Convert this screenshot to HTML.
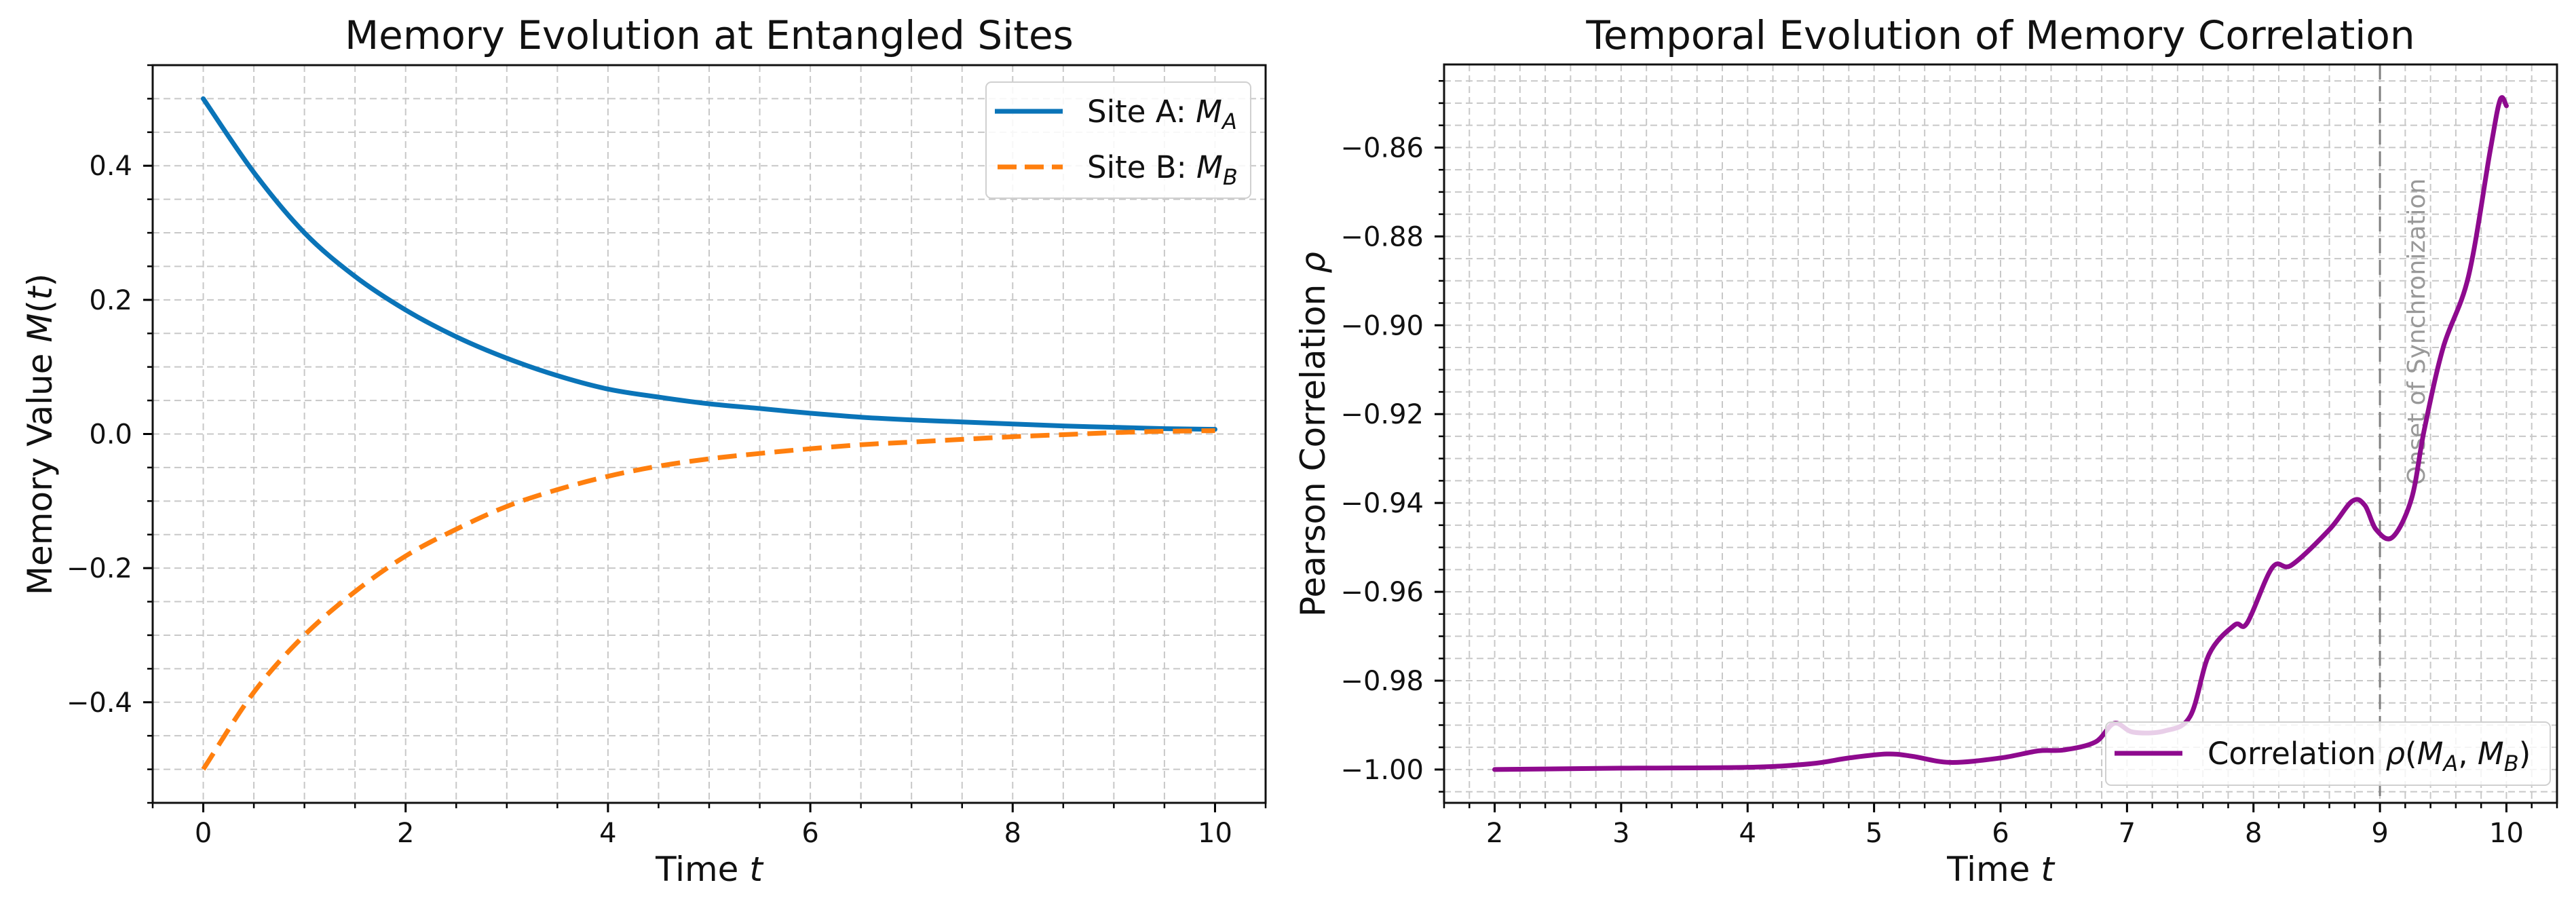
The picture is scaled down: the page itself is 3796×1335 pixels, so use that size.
<!DOCTYPE html>
<html><head><meta charset="utf-8">
<style>
html,body{margin:0;padding:0;background:#fff;}
svg{display:block;font-family:"DejaVu Sans","Liberation Sans",sans-serif;}
</style></head>
<body>
<svg id="fig" width="3796" height="1335" viewBox="0 0 3796 1335" xmlns="http://www.w3.org/2000/svg">
<rect width="3796" height="1335" fill="#fff"/>
</svg>
<script>
// ---- Left chart data ----
const timeA = [0,0.5,1,1.5,2,2.5,3,3.5,4,4.5,5,5.5,6,6.5,7,7.5,8,8.5,9,9.5,10];
const siteA = [0.5,0.39,0.30,0.235,0.185,0.145,0.113,0.087,0.067,0.055,0.045,0.038,0.031,0.025,0.021,0.018,0.015,0.012,0.010,0.008,0.007];
const siteB = [-0.5,-0.385,-0.30,-0.235,-0.182,-0.142,-0.108,-0.083,-0.063,-0.048,-0.037,-0.029,-0.022,-0.016,-0.012,-0.008,-0.004,-0.001,0.002,0.004,0.005];
const leftXTicks = [0,2,4,6,8,10];
const leftXTickLabels = ["0","2","4","6","8","10"];
const leftYTicks = [-0.4,-0.2,0,0.2,0.4];
const leftYTickLabels = ["\u22120.4","\u22120.2","0.0","0.2","0.4"];
// ---- Right chart data ----
const timeR = [2,3,4,4.5,4.8,5.1,5.3,5.6,6.0,6.3,6.5,6.75,6.9,7.05,7.3,7.5,7.65,7.85,7.95,8.15,8.3,8.6,8.78,8.88,8.97,9.1,9.25,9.35,9.5,9.7,9.87,9.95,10.0];
const corr = [-1.0,-0.9997,-0.9995,-0.9987,-0.9974,-0.9965,-0.997,-0.9984,-0.9974,-0.9958,-0.9956,-0.9938,-0.9896,-0.9916,-0.9913,-0.988,-0.974,-0.9675,-0.967,-0.9545,-0.954,-0.946,-0.9396,-0.9405,-0.946,-0.9477,-0.939,-0.9236,-0.905,-0.889,-0.861,-0.8493,-0.8506];
const rightXTicks = [2,3,4,5,6,7,8,9,10];
const rightXTickLabels = ["2","3","4","5","6","7","8","9","10"];
const rightYTicks = [-1.00,-0.98,-0.96,-0.94,-0.92,-0.90,-0.88,-0.86];
const rightYTickLabels = ["\u22121.00","\u22120.98","\u22120.96","\u22120.94","\u22120.92","\u22120.90","\u22120.88","\u22120.86"];
const onsetX = [9];

const NS = "http://www.w3.org/2000/svg";
const svg = document.getElementById('fig');
function el(tag, attrs, parent){
  const e = document.createElementNS(NS, tag);
  for (const k in attrs) e.setAttribute(k, attrs[k]);
  (parent||svg).appendChild(e);
  return e;
}
function smoothPath(pts){
  let d = "M"+pts[0][0].toFixed(1)+","+pts[0][1].toFixed(1);
  for (let i=0;i<pts.length-1;i++){
    const p0=pts[Math.max(i-1,0)], p1=pts[i], p2=pts[i+1], p3=pts[Math.min(i+2,pts.length-1)];
    const c1x=p1[0]+(p2[0]-p0[0])/6, c1y=p1[1]+(p2[1]-p0[1])/6;
    const c2x=p2[0]-(p3[0]-p1[0])/6, c2y=p2[1]-(p3[1]-p1[1])/6;
    d += " C"+c1x.toFixed(1)+","+c1y.toFixed(1)+" "+c2x.toFixed(1)+","+c2y.toFixed(1)+" "+p2[0].toFixed(1)+","+p2[1].toFixed(1);
  }
  return d;
}
function makeAxes(cfg){
  const g = el('g',{});
  
  
  const sx = v => cfg.L + (v-cfg.x0)/(cfg.x1-cfg.x0)*(cfg.R-cfg.L);
  const sy = v => cfg.B - (v-cfg.y0)/(cfg.y1-cfg.y0)*(cfg.B-cfg.T);
  const grid = el('g',{stroke:'#c8c8c8','stroke-width':2,'stroke-dasharray':'10,6',fill:'none'},g);
  
  
  const nx = Math.round((cfg.x1-cfg.x0)/cfg.xm);
  const xs=[], ys=[];
  for (let i=0;i<=nx;i++){ const v=cfg.xmStart+i*cfg.xm; if(v>cfg.x0-1e-9 && v<cfg.x1+1e-9) xs.push(v); }
  const ny = Math.round((cfg.y1-cfg.y0)/cfg.ym)+2;
  for (let i=0;i<=ny;i++){ const v=cfg.ymStart+i*cfg.ym; if(v>cfg.y0-1e-9 && v<cfg.y1+1e-9) ys.push(v); }
  xs.forEach(v=>{ const x=sx(v); if(x>cfg.L+2&&x<cfg.R-2){ const l=el('line',{x1:x,x2:x,y1:cfg.T,y2:cfg.B},grid);
     }});
  ys.forEach(v=>{ const y=sy(v); if(y>cfg.T+2&&y<cfg.B-2){ const l=el('line',{x1:cfg.L,x2:cfg.R,y1:y,y2:y},grid);
     }});
  const tk = el('g',{stroke:'#000','stroke-width':2.5},g);
  
  
  xs.forEach(v=>{ const x=sx(v); el('line',{x1:x,x2:x,y1:cfg.B,y2:cfg.B+8},tk); });
  ys.forEach(v=>{ const y=sy(v); el('line',{x1:cfg.L,x2:cfg.L-8,y1:y,y2:y},tk); });
  cfg.xt.forEach((v,i)=>{ const x=sx(v); el('line',{x1:x,x2:x,y1:cfg.B,y2:cfg.B+14,'stroke-width':3},tk);
    const t=el('text',{x:x,y:1241,'font-size':40,'text-anchor':'middle',fill:'#111'},g); t.textContent=cfg.xtl[i];
      });
  cfg.yt.forEach((v,i)=>{ const y=sy(v); el('line',{x1:cfg.L,x2:cfg.L-14,y1:y,y2:y,'stroke-width':3},tk);
    const t=el('text',{x:cfg.L-30,y:y+14,'font-size':40,'text-anchor':'end',fill:'#111'},g); t.textContent=cfg.ytl[i];
      });
  return {g,sx,sy};
}

// ---------- LEFT ----------
const A = makeAxes({name:'memory-evolution-chart',L:225,R:1865,T:96,B:1183,x0:-0.5,x1:10.5,y0:-0.55,y1:0.55,
  xm:0.5,xmStart:-0.5,ym:0.05,ymStart:-0.55,xt:leftXTicks,xtl:leftXTickLabels,yt:leftYTicks,ytl:leftYTickLabels});
const pA = el('path',{d:smoothPath(timeA.map((t,i)=>[A.sx(t),A.sy(siteA[i])])),fill:'none',stroke:'#0a74b8','stroke-width':7,'stroke-linecap':'round'},A.g);
 
const pB = el('path',{d:smoothPath(timeA.map((t,i)=>[A.sx(t),A.sy(siteB[i])])),fill:'none',stroke:'#ff7f0e','stroke-width':7,'stroke-dasharray':'28,14'},A.g);
 
const spA = el('rect',{x:225,y:96,width:1640,height:1087,fill:'none',stroke:'#111','stroke-width':3},A.g);
 
const lgA = el('g',{},A.g);
 
el('rect',{x:1453,y:121,width:390,height:171,rx:8,fill:'#fff','fill-opacity':0.85,stroke:'#d0d0d0','stroke-width':2},lgA);
el('line',{x1:1466,x2:1566,y1:164,y2:164,stroke:'#0a74b8','stroke-width':7},lgA);
el('line',{x1:1470,x2:1566,y1:246,y2:246,stroke:'#ff7f0e','stroke-width':7,'stroke-dasharray':'28,12'},lgA);
let t1 = el('text',{x:1602,y:180,'font-size':45,fill:'#111'},lgA);
 
t1.innerHTML='Site A: <tspan font-style="italic">M</tspan><tspan font-style="italic" font-size="32" dy="10">A</tspan>';
let t2 = el('text',{x:1602,y:262,'font-size':45,fill:'#111'},lgA);
 
t2.innerHTML='Site B: <tspan font-style="italic">M</tspan><tspan font-style="italic" font-size="32" dy="10">B</tspan>';
let ttl = el('text',{x:1045,y:72,'font-size':58,'text-anchor':'middle',fill:'#111'});
 
ttl.textContent='Memory Evolution at Entangled Sites';
let xl = el('text',{x:1045,y:1298,'font-size':50,'text-anchor':'middle',fill:'#111'});
 
xl.innerHTML='Time <tspan font-style="italic">t</tspan>';
let yl = el('text',{x:0,y:0,'font-size':50,'text-anchor':'middle',fill:'#111',transform:'translate(76,640) rotate(-90)'});
 
yl.innerHTML='Memory Value <tspan font-style="italic">M</tspan>(<tspan font-style="italic">t</tspan>)';

// ---------- RIGHT ----------
const Bx = makeAxes({name:'correlation-chart',L:2128,R:3768,T:95,B:1183,x0:1.6,x1:10.4,y0:-1.0075,y1:-0.8413,
  xm:0.2,xmStart:1.6,ym:0.005,ymStart:-1.01,xt:rightXTicks,xtl:rightXTickLabels,yt:rightYTicks,ytl:rightYTickLabels});
onsetX.forEach(v=>{
  const vl = el('line',{x1:Bx.sx(v),x2:Bx.sx(v),y1:95,y2:1183,stroke:'#808080','stroke-width':3,'stroke-dasharray':'22,10'},Bx.g);
   
  const ot = el('text',{x:0,y:0,'font-size':36,fill:'#999','text-anchor':'start',transform:'translate('+(Bx.sx(v)+66)+','+Bx.sy(-0.936)+') rotate(-90)'},Bx.g);
   
  ot.textContent='Onset of Synchronization';
});
const pC = el('path',{d:smoothPath(timeR.map((t,i)=>[Bx.sx(t),Bx.sy(corr[i])])),fill:'none',stroke:'#8e0a8e','stroke-width':7,'stroke-linecap':'round','stroke-linejoin':'round'},Bx.g);
 
const spB = el('rect',{x:2128,y:95,width:1640,height:1088,fill:'none',stroke:'#111','stroke-width':3},Bx.g);
 
const lgB = el('g',{},Bx.g);
 
el('rect',{x:3103,y:1064,width:655,height:93,rx:8,fill:'#fff','fill-opacity':0.8,stroke:'#d0d0d0','stroke-width':2},lgB);
el('line',{x1:3116,x2:3216,y1:1110,y2:1110,stroke:'#8e0a8e','stroke-width':7},lgB);
let t3 = el('text',{x:3253,y:1126,'font-size':45,fill:'#111'},lgB);
 
t3.innerHTML='Correlation <tspan font-style="italic">ρ</tspan>(<tspan font-style="italic">M</tspan><tspan font-style="italic" font-size="32" dy="10">A</tspan><tspan dy="-10">, </tspan><tspan font-style="italic">M</tspan><tspan font-style="italic" font-size="32" dy="10">B</tspan><tspan dy="-10">)</tspan>';
let ttl2 = el('text',{x:2948,y:72,'font-size':58,'text-anchor':'middle',fill:'#111'});
 
ttl2.textContent='Temporal Evolution of Memory Correlation';
let xl2 = el('text',{x:2948,y:1298,'font-size':50,'text-anchor':'middle',fill:'#111'});
 
xl2.innerHTML='Time <tspan font-style="italic">t</tspan>';
let yl2 = el('text',{x:0,y:0,'font-size':50,'text-anchor':'middle',fill:'#111',transform:'translate(1952,640) rotate(-90)'});
 
yl2.innerHTML='Pearson Correlation <tspan font-style="italic">ρ</tspan>';
</script>
</body></html>
